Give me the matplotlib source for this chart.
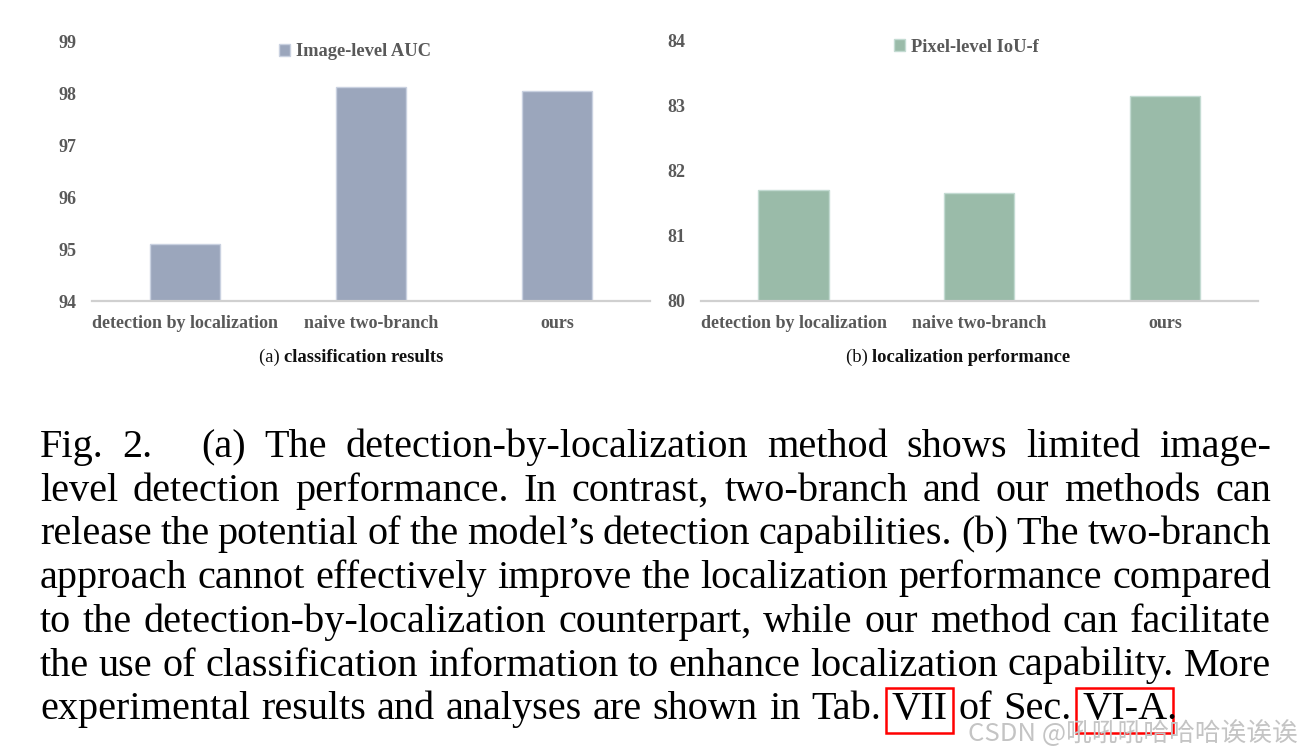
import matplotlib.pyplot as plt
from matplotlib.patches import Rectangle

W, H = 1300, 755

categories = ["detection by localization", "naive two-branch", "ours"]
auc_values = [95.1, 98.11, 98.03]
iou_values = [81.71, 81.65, 83.15]
auc_ticks = [94, 95, 96, 97, 98, 99]
iou_ticks = [80, 81, 82, 83, 84]

caption_lines = [
    "Fig. 2.  (a) The detection-by-localization method shows limited image-",
    "level detection performance. In contrast, two-branch and our methods can",
    "release the potential of the model\u2019s detection capabilities. (b) The two-branch",
    "approach cannot effectively improve the localization performance compared",
    "to the detection-by-localization counterpart, while our method can facilitate",
    "the use of classification information to enhance localization capability. More",
    "experimental results and analyses are shown in Tab. VII of Sec. VI-A.",
]
boxed_words = ["VII", "VI-A"]

SERIF = "Liberation Serif"
GREY = "#595959"

plt.rcParams["font.family"] = SERIF

fig = plt.figure(figsize=(W / 100, H / 100), dpi=100)
renderer = fig.canvas.get_renderer()


def fx(x):
    return x / W


def fy(y):
    return 1 - y / H


def bar_panel(left, right, top, bottom, values, ticks, color, edge, label):
    ax = fig.add_axes([fx(left), fy(bottom), (right - left) / W, (bottom - top) / H])
    xs = list(range(len(categories)))
    ax.bar(xs, values, width=0.38, color=color, edgecolor=edge, linewidth=1.0,
           label=label, zorder=2)
    ax.set_xlim(-0.5, len(categories) - 0.5)
    ax.set_ylim(ticks[0], ticks[-1])
    ax.set_yticks(ticks)
    ax.set_xticks(xs, categories)
    for s in ["top", "right", "left"]:
        ax.spines[s].set_visible(False)
    ax.spines["bottom"].set_color("#d0d0d0")
    ax.spines["bottom"].set_linewidth(1.6)
    ax.tick_params(axis="both", length=0, labelcolor=GREY, labelsize=13)
    ax.tick_params(axis="y", pad=11)
    ax.tick_params(axis="x", pad=10)
    for t in ax.get_xticklabels() + ax.get_yticklabels():
        t.set_fontweight("bold")
    ax.patch.set_alpha(0)
    return ax


def panel_legend(ax, x, y):
    ax.legend(loc="center left", bbox_to_anchor=(fx(x), fy(y)),
              bbox_transform=fig.transFigure, frameon=False, borderpad=0,
              borderaxespad=0, handlelength=0.6, handleheight=0.6,
              handletextpad=0.3, labelcolor=GREY,
              prop={"family": SERIF, "weight": "bold", "size": 13.3})


def mixed_caption(xc, y, normal, bold, size=13.4):
    t1 = fig.text(0, fy(y), normal, fontsize=size, va="center", color="#111111")
    t2 = fig.text(0, fy(y), bold, fontsize=size, va="center", fontweight="bold",
                  color="#111111")
    w1 = t1.get_window_extent(renderer).width
    w2 = t2.get_window_extent(renderer).width
    x0 = xc - (w1 + w2) / 2
    t1.set_x(fx(x0))
    t2.set_x(fx(x0 + w1))


ax1 = bar_panel(92, 650, 41, 301, auc_values, auc_ticks, "#9ba6bc", "#c9d1e0",
                "Image-level AUC")
panel_legend(ax1, 279, 52)
mixed_caption(351, 357, "(a) ", "classification results")

ax2 = bar_panel(700.7, 1257.7, 40.7, 300.7, iou_values, iou_ticks, "#9abba9", "#c3dbd2",
                "Pixel-level IoU-f")
panel_legend(ax2, 894, 47)
mixed_caption(958, 357, "(b) ", "localization performance")

# caption paragraph, justified by hand
size = 29
x_left, x_right = 40, 1271
base0, step = 457, 43.7
quad = 30
for i, line in enumerate(caption_lines):
    words = line.replace("2.  (a)", "2.\u2003(a)").split(" ")
    texts = []
    widths = []
    for w in words:
        parts = w.split("\u2003")
        for j, p in enumerate(parts):
            t = fig.text(0, fy(base0 + i * step), p, fontsize=size, va="baseline",
                         color="black")
            texts.append((t, j > 0))
            widths.append(t.get_window_extent(renderer).width)
    n_gaps = len(texts) - 1
    extra = sum(quad for t, q in texts if q)
    if i < len(caption_lines) - 1:
        gap = (x_right - x_left - sum(widths) - extra) / n_gaps
    else:
        gap = size * 100 / 72 * 0.27
    x = x_left
    for (t, q), w in zip(texts, widths):
        if q:
            x += quad
        t.set_x(fx(x))
        word = t.get_text().rstrip(".")
        if word in boxed_words and i == len(caption_lines) - 1:
            tmp = fig.text(0, 0, word, fontsize=size)
            ww = tmp.get_window_extent(renderer).width
            tmp.remove()
            yb = base0 + i * step
            fig.patches.append(Rectangle((fx(x - 6), fy(yb + 14)), (ww + 11) / W, 45 / H,
                                         transform=fig.transFigure, fill=False,
                                         edgecolor="#ff0000", linewidth=1.8))
        x += w + gap

fig.text(fx(968), fy(741), "CSDN @吼吼吼哈哈哈诶诶诶", fontsize=18.5, va="baseline",
         color="#c4c4c4", family=["Noto Sans CJK SC", "DejaVu Sans"])

fig.savefig("out.png", dpi=100)
